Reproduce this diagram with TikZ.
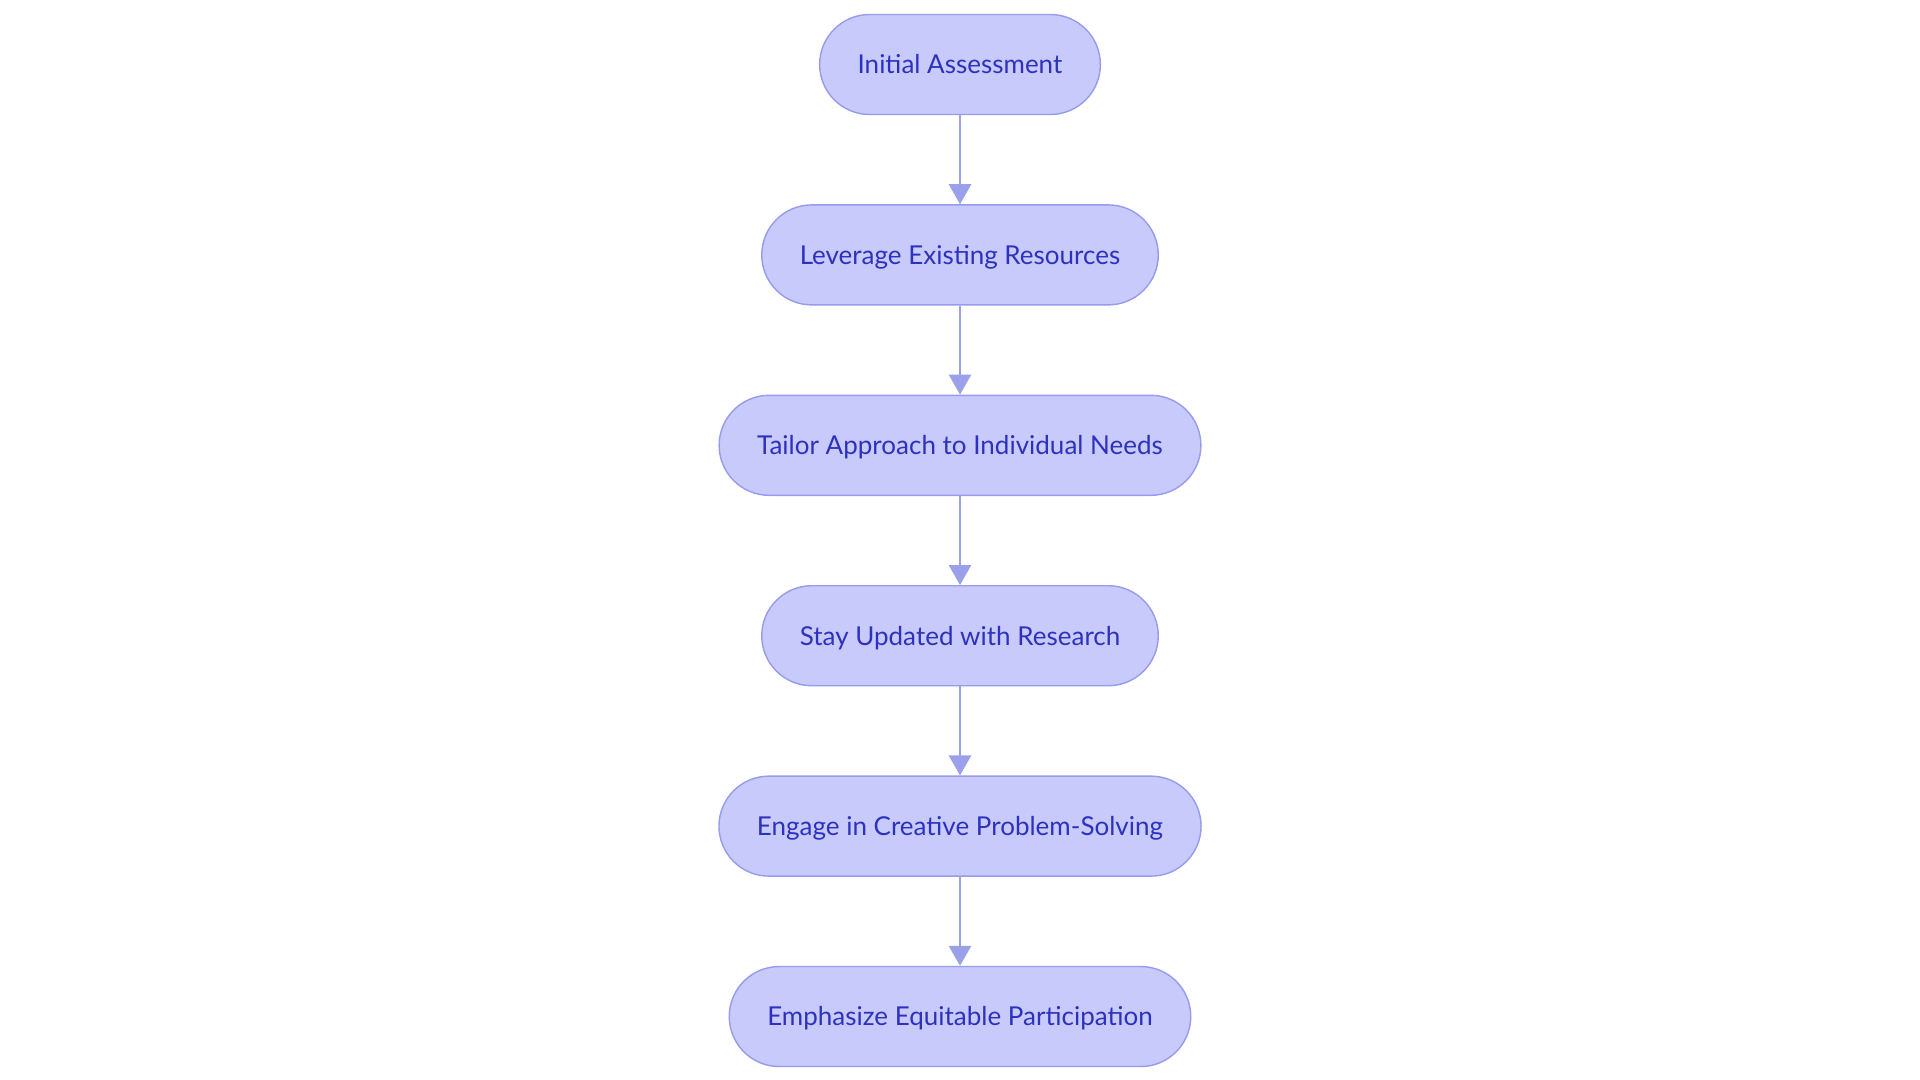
\documentclass[tikz,border=0pt]{standalone}
\usepackage{fontspec}
\setmainfont{Lato}
\usepackage{tikz, xcolor}
\usetikzlibrary{positioning, arrows.meta}

\definecolor{stepfill}{RGB}{200,202,252}
\definecolor{stepline}{RGB}{150,155,235}
\definecolor{steptext}{RGB}{45,50,190}
\definecolor{arrowcol}{RGB}{155,160,235}

\begin{document}
\begin{tikzpicture}[
    stepbox/.style={draw=stepline, fill=stepfill, text=steptext, line width=0.4pt,
      rounded corners=0.5cm, minimum height=1.0cm, inner xsep=0.38cm,
      text height=5.3pt, text depth=0pt,
      font=\fontsize{7.4}{9}\selectfont},
    flow/.style={draw=arrowcol, line width=0.8pt, -{Triangle[length=0.2cm, width=0.22cm]}},
    node distance=0.89cm
  ]
    \useasboundingbox (0, 0) rectangle (19.2, -10.8);

    \node [stepbox] (assess) at (9.6, -0.645) {Initial Assessment};
    \node [stepbox, below=of assess] (leverage) {Leverage Existing Resources};
    \node [stepbox, below=of leverage] (tailor) {Tailor Approach to Individual Needs};
    \node [stepbox, below=of tailor] (updated) {Stay Updated with Research};
    \node [stepbox, below=of updated] (engage) {Engage in Creative Problem-Solving};
    \node [stepbox, below=of engage] (equitable) {Emphasize Equitable Participation};

    \draw [flow] (assess) to (leverage);
    \draw [flow] (leverage) to (tailor);
    \draw [flow] (tailor) to (updated);
    \draw [flow] (updated) to (engage);
    \draw [flow] (engage) to (equitable);

  \end{tikzpicture}
\end{document}
